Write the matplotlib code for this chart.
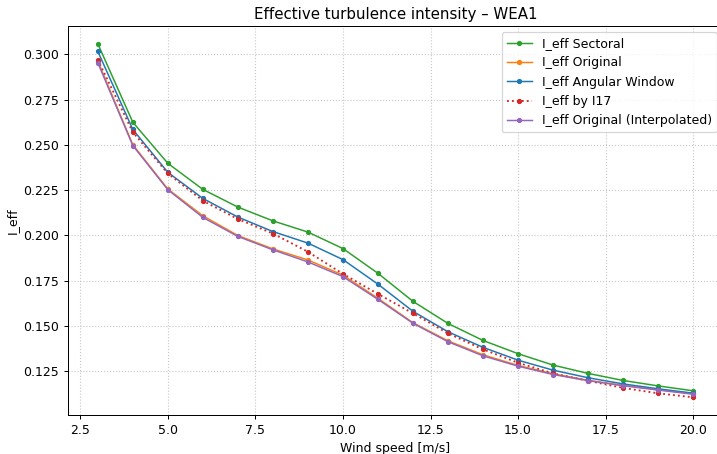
import matplotlib
matplotlib.use("Agg")
import matplotlib.pyplot as plt

wind = [3, 4, 5, 6, 7, 8, 9, 10, 11, 12, 13, 14, 15, 16, 17, 18, 19, 20]
sectoral = [0.3059, 0.2625, 0.2398, 0.2254, 0.2156, 0.2080, 0.2018, 0.1927, 0.1790, 0.1635,
            0.1513, 0.1419, 0.1346, 0.1283, 0.1237, 0.1198, 0.1168, 0.1141]
original = [0.2963, 0.2501, 0.2256, 0.2108, 0.1999, 0.1925, 0.1864, 0.1780, 0.1652, 0.1517,
            0.1417, 0.1340, 0.1281, 0.1235, 0.1199, 0.1171, 0.1147, 0.1125]
angular = [0.3017, 0.2585, 0.2348, 0.2204, 0.2101, 0.2021, 0.1957, 0.1866, 0.1730, 0.1580,
           0.1467, 0.1381, 0.1310, 0.1255, 0.1213, 0.1179, 0.1152, 0.1128]
i17 = [0.2971, 0.2570, 0.2342, 0.2191, 0.2090, 0.2010, 0.1909, 0.1787, 0.1676, 0.1569,
       0.1458, 0.1370, 0.1296, 0.1237, 0.1196, 0.1157, 0.1127, 0.1105]
interp = [0.2954, 0.2496, 0.2252, 0.2099, 0.1994, 0.1920, 0.1853, 0.1772, 0.1646, 0.1514,
          0.1412, 0.1334, 0.1277, 0.1231, 0.1197, 0.1169, 0.1145, 0.1122]

dpi = 89.625
fig, ax = plt.subplots(figsize=(717 / dpi, 454 / dpi), dpi=dpi)
fig.subplots_adjust(left=68 / 717, right=723 / 717, top=1 - 26 / 454, bottom=1 - 415 / 454)

ms = 3.2
ax.plot(wind, sectoral, marker='o', ms=ms, lw=1.2, color='C2', label='I_eff Sectoral')
ax.plot(wind, original, marker='o', ms=ms, lw=1.2, color='C1', label='I_eff Original')
ax.plot(wind, angular, marker='o', ms=ms, lw=1.2, color='C0', label='I_eff Angular Window')
ax.plot(wind, i17, marker='o', ms=ms, lw=1.5, ls=':', color='C3', label='I_eff by I17')
ax.plot(wind, interp, marker='o', ms=ms, lw=1.2, color='C4', label='I_eff Original (Interpolated)')

ax.set_title('Effective turbulence intensity – WEA1')
ax.set_xlabel('Wind speed [m/s]')
ax.set_ylabel('I_eff')
ax.grid(True, linestyle=':', color='#c8c8c8', lw=0.9)
ax.legend(loc='upper right')

fig.savefig('out.png', dpi=dpi)
